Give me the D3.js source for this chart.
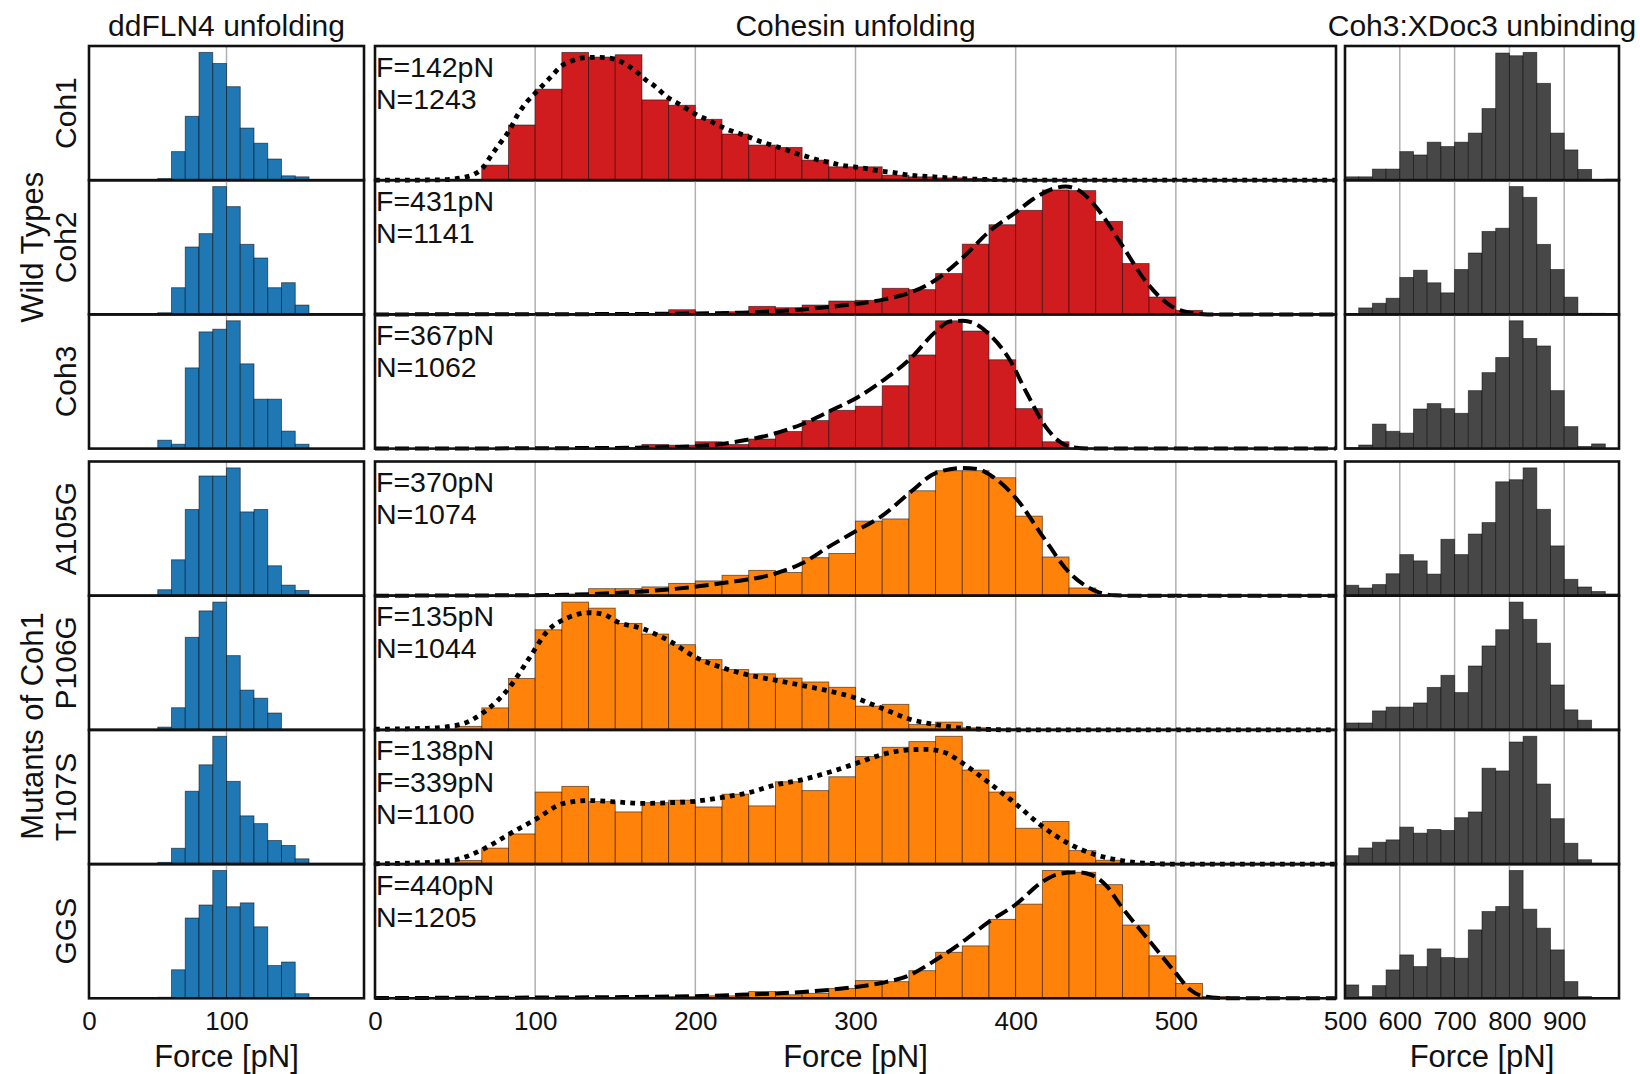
<!DOCTYPE html>
<html>
<head>
  <script src="https://cdnjs.cloudflare.com/ajax/libs/d3/7.8.5/d3.min.js"></script>
  <style>
    body { margin: 0; background: #fff; }
    text { font-family: "Liberation Sans", Arial, sans-serif; fill: #111; }
  </style>
</head>
<body>
<svg id="fig" width="1640" height="1074"></svg>
<script>
// ---- data ----
var rowNames = ["Coh1", "Coh2", "Coh3", "A105G", "P106G", "T107S", "GGS"];
var groupNames = ["Wild Types", "Mutants of Coh1"];
var columnTitles = ["ddFLN4 unfolding", "Cohesin unfolding", "Coh3:XDoc3 unbinding"];
var axisLabel = "Force [pN]";

var fitLabels = [
  ["F=142pN", "N=1243"],
  ["F=431pN", "N=1141"],
  ["F=367pN", "N=1062"],
  ["F=370pN", "N=1074"],
  ["F=135pN", "N=1044"],
  ["F=138pN", "F=339pN", "N=1100"],
  ["F=440pN", "N=1205"]
];
var fitStyle = ["dot", "dash", "dash", "dash", "dot", "dot", "dash"];
var cohesinColorKey = ["wt", "wt", "wt", "mut", "mut", "mut", "mut"];

// ddFLN4 histograms, bins of 10 pN from 50 pN
var ddflnEdges = [50, 60, 70, 80, 90, 100, 110, 120, 130, 140, 150, 160];
var ddflnCoh1  = [5, 85, 190, 380, 347, 278, 155, 110, 63, 13, 10];
var ddflnCoh2  = [5, 80, 202, 242, 383, 323, 210, 169, 80, 95, 28];
var ddflnCoh3  = [25, 13, 240, 347, 355, 380, 252, 147, 147, 52, 13];
var ddflnA105G = [17, 102, 245, 340, 340, 363, 238, 245, 85, 30, 15];
var ddflnP106G = [8, 63, 263, 338, 363, 211, 113, 90, 48, 0, 0];
var ddflnT107S = [5, 45, 207, 282, 363, 235, 137, 115, 67, 53, 15];
var ddflnGGS   = [3, 81, 228, 265, 363, 260, 271, 203, 93, 103, 13];

// Cohesin histograms, bins of 100/6 pN from 0 pN
var cohesinBinWidth = 100 / 6;
var cohCoh1  = [0, 0, 0, 0, 45, 165, 272, 382, 368, 375, 240, 224, 182, 138, 105, 98, 60, 40, 40, 15, 10, 7, 5];
var cohCoh2  = [0, 0, 0, 0, 0, 0, 0, 0, 0, 0, 0, 14, 3, 8, 24, 20, 28, 40, 42, 78, 74, 122, 210, 268, 311, 372, 370, 278, 152, 52, 12];
var cohCoh3  = [0, 0, 0, 0, 0, 0, 0, 0, 0, 3, 12, 10, 20, 12, 28, 50, 82, 112, 124, 184, 274, 374, 344, 260, 117, 20, 2];
var cohA105G = [0, 0, 0, 0, 0, 0, 0, 5, 20, 20, 25, 35, 42, 58, 72, 66, 108, 120, 212, 218, 298, 355, 355, 335, 226, 110, 22];
var cohP106G = [0, 0, 0, 10, 62, 145, 282, 360, 343, 300, 270, 240, 198, 170, 158, 146, 135, 120, 67, 72, 15, 22, 6, 3];
var cohT107S = [0, 0, 0, 10, 45, 85, 203, 219, 176, 147, 173, 180, 161, 197, 164, 232, 207, 246, 303, 329, 345, 360, 265, 203, 101, 120, 38, 11];
var cohGGS   = [0, 0, 0, 0, 0, 0, 0, 0, 0, 0, 0, 5, 7, 7, 19, 10, 14, 28, 50, 47, 78, 130, 148, 223, 266, 361, 356, 321, 207, 120, 42, 5];

// fitted curves, [force, height] read along the dashed / dotted lines
var fitCoh1 = [[0, 0], [40, 1], [55, 8], [62, 18], [67, 35], [72, 70], [78, 110], [84, 150], [89, 195], [95, 235], [100, 260],
  [106, 290], [111, 315], [116, 340], [122, 355], [128, 364], [134, 367], [140, 367], [146, 365], [152, 358], [158, 342],
  [163, 325], [169, 300], [175, 280], [182, 250], [189, 230], [195, 212], [201, 195], [208, 180], [214, 165], [220, 152],
  [227, 140], [234, 128], [241, 115], [249, 103], [256, 92], [263, 80], [270, 70], [277, 60], [284, 53], [291, 45],
  [299, 40], [306, 35], [315, 28], [325, 22], [334, 15], [349, 10], [365, 5], [385, 2], [410, 0], [600, 0]];
var fitCoh2 = [[0, 0], [150, 1], [184, 2], [228, 5], [267, 15], [298, 30], [318, 45], [334, 65], [349, 100], [367, 170],
  [384, 250], [400, 305], [411, 345], [423, 375], [431, 382], [439, 372], [450, 322], [466, 210], [481, 100], [497, 25],
  [509, 5], [520, 0], [600, 0]];
var fitCoh3 = [[0, 0], [150, 2], [200, 7], [228, 22], [248, 42], [267, 72], [285, 112], [302, 152], [318, 202], [334, 262],
  [350, 342], [359, 372], [367, 374], [376, 362], [384, 332], [396, 262], [407, 162], [419, 62], [427, 22], [435, 4],
  [446, 0], [600, 0]];
var fitA105G = [[0, 0], [112, 2], [151, 8], [184, 18], [217, 36], [250, 63], [267, 93], [283, 138], [300, 183], [317, 228],
  [334, 293], [350, 348], [367, 363], [376, 360], [384, 343], [400, 278], [417, 168], [433, 68], [450, 13], [462, 1],
  [475, 0], [600, 0]];
var fitP106G = [[0, 2], [34, 5], [53, 15], [68, 50], [84, 120], [96, 200], [108, 280], [120, 315], [134, 330], [143, 325],
  [151, 305], [167, 285], [184, 250], [200, 205], [217, 175], [233, 155], [250, 140], [267, 125], [283, 110], [300, 90],
  [317, 60], [334, 30], [350, 15], [367, 5], [400, 0], [600, 0]];
var fitT107S = [[0, 1], [34, 5], [51, 13], [68, 43], [84, 85], [101, 128], [117, 170], [134, 179], [151, 175], [167, 171],
  [184, 173], [200, 177], [217, 188], [233, 201], [250, 223], [267, 238], [283, 258], [300, 283], [317, 309], [334, 322],
  [345, 323], [357, 312], [367, 284], [383, 230], [400, 170], [417, 105], [433, 58], [450, 26], [466, 10], [483, 2],
  [500, 0], [600, 0]];
var fitGGS = [[0, 1], [100, 2], [200, 6], [233, 11], [267, 18], [300, 32], [317, 44], [333, 64], [350, 108], [367, 160],
  [383, 215], [400, 265], [417, 330], [426, 350], [438, 356], [447, 349], [457, 316], [466, 259], [483, 165], [500, 71],
  [509, 24], [516, 7], [527, 1], [540, 0], [600, 0]];

// Coh3:XDoc3 histograms, bins of 25 pN from 500 pN
var xdocEdges = [500, 525, 550, 575, 600, 625, 650, 675, 700, 725, 750, 775, 800, 825, 850, 875, 900, 925, 950, 975, 1000];
var xdocCoh1  = [10, 10, 33, 33, 85, 75, 113, 100, 113, 140, 213, 378, 370, 380, 288, 140, 90, 32, 0, 3];
var xdocCoh2  = [0, 18, 31, 45, 103, 123, 88, 60, 125, 171, 231, 240, 356, 326, 195, 125, 48, 3, 3, 2];
var xdocCoh3  = [3, 10, 68, 48, 43, 110, 125, 111, 98, 161, 211, 253, 355, 306, 285, 161, 61, 6, 13, 0];
var xdocA105G = [30, 22, 32, 63, 118, 100, 62, 162, 118, 177, 210, 327, 333, 367, 248, 143, 47, 25, 12, 5];
var xdocP106G = [20, 20, 55, 66, 66, 78, 123, 158, 108, 185, 243, 290, 370, 320, 251, 130, 58, 28, 0, 0];
var xdocT107S = [25, 48, 65, 72, 110, 92, 103, 100, 138, 155, 285, 277, 363, 380, 238, 135, 62, 13, 0, 0];
var xdocGGS   = [40, 5, 38, 85, 130, 95, 148, 122, 120, 205, 260, 275, 383, 267, 210, 145, 50, 5, 0, 0];

// ---- layout ----
var ddflnRows = [ddflnCoh1, ddflnCoh2, ddflnCoh3, ddflnA105G, ddflnP106G, ddflnT107S, ddflnGGS];
var cohRows = [cohCoh1, cohCoh2, cohCoh3, cohA105G, cohP106G, cohT107S, cohGGS];
var fitRows = [fitCoh1, fitCoh2, fitCoh3, fitA105G, fitP106G, fitT107S, fitGGS];
var xdocRows = [xdocCoh1, xdocCoh2, xdocCoh3, xdocA105G, xdocP106G, xdocT107S, xdocGGS];

var colors = { ddfln: "#1f77b4", wt: "#d01c1f", mut: "#ff820b", xdoc: "#474747" };

var rowH = 134.2;
var rowTop = [46, 46 + rowH, 46 + 2 * rowH, 461.5, 461.5 + rowH, 461.5 + 2 * rowH, 461.5 + 3 * rowH];

var columns = [
  { x: d3.scaleLinear().domain([0, 200]).range([89, 364]), ticks: [0, 100], grid: [100] },
  { x: d3.scaleLinear().domain([0, 600]).range([375, 1336]), ticks: [0, 100, 200, 300, 400, 500], grid: [100, 200, 300, 400, 500] },
  { x: d3.scaleLinear().domain([500, 1000]).range([1345, 1619]), ticks: [500, 600, 700, 800, 900], grid: [600, 700, 800, 900] }
];

var svg = d3.select("#fig");
svg.append("rect").attr("width", 1640).attr("height", 1074).attr("fill", "#fff");

function histData(edges, values) {
  return values.map(function (v, i) { return { x0: edges[i], x1: edges[i + 1], v: v }; });
}

function drawPanel(col, r, bins, color, fit, style) {
  var x = col.x;
  var top = rowTop[r], bottom = top + rowH;
  var yMax = d3.max(bins, function (d) { return d.v; });
  if (fit) yMax = Math.max(yMax, d3.max(fit, function (d) { return d[1]; }));
  var y = d3.scaleLinear().domain([0, yMax * 1.05]).range([bottom, top]);

  var g = svg.append("g");
  g.selectAll("line.grid")
    .data(col.grid)
    .enter().append("line")
    .attr("x1", function (d) { return x(d); })
    .attr("x2", function (d) { return x(d); })
    .attr("y1", top).attr("y2", bottom)
    .attr("stroke", "#b0b0b0").attr("stroke-width", 1.5);

  g.selectAll("rect.bar")
    .data(bins.filter(function (d) { return d.v > 0; }))
    .enter().append("rect")
    .attr("x", function (d) { return x(d.x0); })
    .attr("width", function (d) { return x(d.x1) - x(d.x0); })
    .attr("y", function (d) { return y(d.v); })
    .attr("height", function (d) { return bottom - y(d.v); })
    .attr("fill", color)
    .attr("stroke", "#000").attr("stroke-opacity", 0.55).attr("stroke-width", 0.9);

  if (fit) {
    var line = d3.line()
      .x(function (d) { return x(d[0]); })
      .y(function (d) { return y(d[1]); })
      .curve(d3.curveMonotoneX);
    g.append("path")
      .attr("d", line(fit))
      .attr("fill", "none")
      .attr("stroke", "#000")
      .attr("stroke-width", style === "dot" ? 4.8 : 4)
      .attr("stroke-dasharray", style === "dot" ? "4.8,5.2" : "14,6");
  }

  g.append("rect")
    .attr("x", x.range()[0]).attr("y", top)
    .attr("width", x.range()[1] - x.range()[0]).attr("height", rowH)
    .attr("fill", "none").attr("stroke", "#111").attr("stroke-width", 2.6);
}

rowNames.forEach(function (name, r) {
  drawPanel(columns[0], r, histData(ddflnEdges, ddflnRows[r]), colors.ddfln, null, null);
  var cohEdges = d3.range(cohRows[r].length + 1).map(function (k) { return k * cohesinBinWidth; });
  drawPanel(columns[1], r, histData(cohEdges, cohRows[r]), colors[cohesinColorKey[r]], fitRows[r], fitStyle[r]);
  drawPanel(columns[2], r, histData(xdocEdges, xdocRows[r]), colors.xdoc, null, null);

  // F / N annotation, one text per line
  fitLabels[r].forEach(function (t, i) {
    svg.append("text")
      .attr("x", 376)
      .attr("y", rowTop[r] + 30.5 + i * 32)
      .attr("font-size", 28.5)
      .text(t);
  });

  // row label
  svg.append("text")
    .attr("transform", "translate(76," + (rowTop[r] + rowH / 2) + ") rotate(-90)")
    .attr("text-anchor", "middle")
    .attr("font-size", 30)
    .text(name);
});

// group labels
var groupCenters = [rowTop[1] + rowH / 2, rowTop[4] + rowH - 4];
groupNames.forEach(function (g, i) {
  svg.append("text")
    .attr("transform", "translate(43," + groupCenters[i] + ") rotate(-90)")
    .attr("text-anchor", "middle")
    .attr("font-size", 31)
    .text(g);
});

// column titles, ticks, axis labels
columns.forEach(function (col, i) {
  var cx = (col.x.range()[0] + col.x.range()[1]) / 2;
  svg.append("text")
    .attr("x", cx).attr("y", 36)
    .attr("text-anchor", "middle")
    .attr("font-size", 30)
    .text(columnTitles[i]);

  var axis = svg.append("g")
    .attr("transform", "translate(0," + (rowTop[6] + rowH) + ")")
    .call(d3.axisBottom(col.x).tickValues(col.ticks).tickSize(0).tickPadding(13).tickFormat(d3.format("d")));
  axis.select(".domain").remove();
  axis.selectAll("text")
    .attr("font-size", 26)
    .attr("font-family", "Liberation Sans, Arial, sans-serif")
    .attr("fill", "#111");

  svg.append("text")
    .attr("x", cx).attr("y", 1067)
    .attr("text-anchor", "middle")
    .attr("font-size", 31)
    .text(axisLabel);
});
</script>
</body>
</html>
